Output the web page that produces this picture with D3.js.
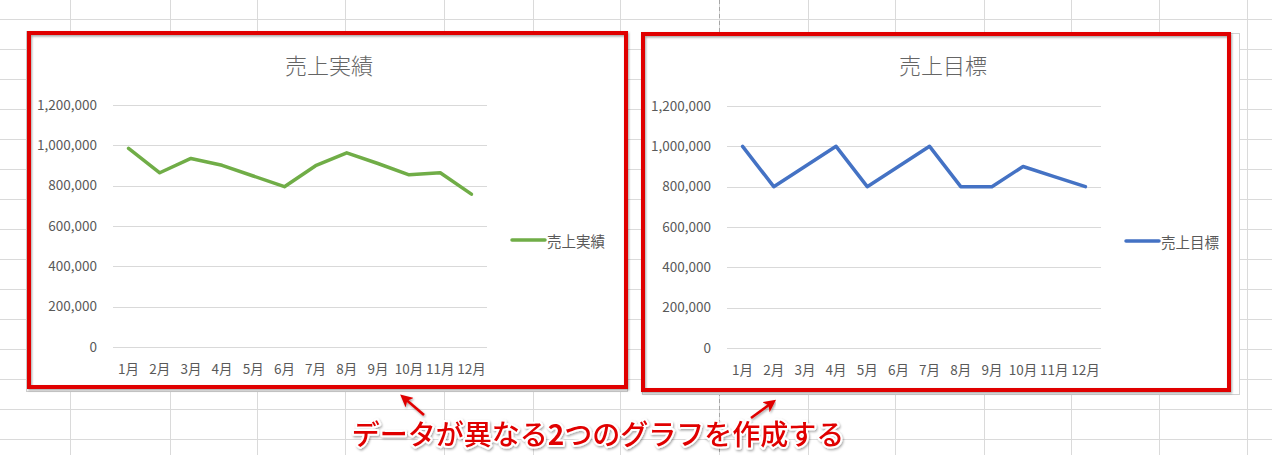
<!DOCTYPE html>
<html lang="ja">
<head>
<meta charset="utf-8">
<script src="https://cdn.jsdelivr.net/npm/d3@7"></script>
<style>
  body { margin: 0; background: #fff; }
  svg text { font-family: "Noto Sans CJK JP", "Noto Sans", sans-serif; }
</style>
</head>
<body>
<div id="chart"></div>
<script>
// Daten
const months = ["1月", "2月", "3月", "4月", "5月", "6月", "7月", "8月", "9月", "10月", "11月", "12月"];
const actualSales = [985000, 864000, 935000, 901000, 848000, 795000, 899000, 963000, 910000, 854000, 864000, 758000];
const targetSales = [1000000, 800000, 900000, 1000000, 800000, 900000, 1000000, 800000, 800000, 900000, 850000, 800000];
const yTicks = [0, 200000, 400000, 600000, 800000, 1000000, 1200000];
const titles = ["売上実績", "売上目標"];
const noteParts = ["データが異なる", "2", "つのグラフを作成する"];

// Excel-Raster im Hintergrund
const colLines = [70, 170, 257, 345, 444, 533, 620, 719, 808, 895, 984, 1071, 1159, 1247];
const rowLines = d3.range(19.5, 455, 30);

const W = 1272, H = 455;
const svg = d3.select("#chart").append("svg")
    .attr("width", W)
    .attr("height", H);

svg.append("rect").attr("width", W).attr("height", H).attr("fill", "#fff");

svg.append("g").selectAll("line.col")
    .data(colLines)
    .join("line")
    .attr("x1", d => d + 0.5).attr("x2", d => d + 0.5)
    .attr("y1", 0).attr("y2", H)
    .attr("stroke", "#dadada");

svg.append("g").selectAll("line.row")
    .data(rowLines)
    .join("line")
    .attr("x1", 0).attr("x2", W)
    .attr("y1", d => d).attr("y2", d => d)
    .attr("stroke", "#dadada");

// Seitenumbruch (gestrichelt)
svg.append("line")
    .attr("x1", 719.5).attr("x2", 719.5)
    .attr("y1", 0).attr("y2", H)
    .attr("stroke", "#a6a6a6")
    .attr("stroke-dasharray", "4,3");

const defs = svg.append("defs");
const shadow = defs.append("filter").attr("id", "shadow")
    .attr("x", "-10%").attr("y", "-30%").attr("width", "120%").attr("height", "160%");
shadow.append("feDropShadow")
    .attr("dx", 1).attr("dy", 1.5).attr("stdDeviation", 1)
    .attr("flood-color", "#000").attr("flood-opacity", 0.35);

defs.append("marker")
    .attr("id", "arrowHead")
    .attr("viewBox", "0 0 10 10")
    .attr("refX", 7).attr("refY", 5)
    .attr("markerWidth", 5).attr("markerHeight", 5)
    .attr("orient", "auto")
    .append("path")
    .attr("d", "M0,0 L10,5 L0,10 L2.5,5 Z")
    .attr("fill", "#e00000");

// Ein Diagramm zeichnen
function drawChart(box, plot, title, values, color) {
    const g = svg.append("g");

    // Diagrammfläche
    g.append("rect")
        .attr("x", box.x).attr("y", box.y)
        .attr("width", box.w).attr("height", box.h)
        .attr("fill", "#fff")
        .attr("stroke", "#d0d0d0");

    const x = d3.scaleBand().domain(months).range([plot.left, plot.right]);
    const y = d3.scaleLinear().domain([0, 1200000]).range([plot.bottom, plot.top]);

    // Gitterlinien
    g.append("g").selectAll("line")
        .data(yTicks)
        .join("line")
        .attr("x1", plot.left).attr("x2", plot.right)
        .attr("y1", d => Math.round(y(d)) + 0.5)
        .attr("y2", d => Math.round(y(d)) + 0.5)
        .attr("stroke", "#d9d9d9");

    // Y-Achse
    const yAxis = d3.axisLeft(y).tickValues(yTicks).tickSize(0).tickPadding(16)
        .tickFormat(d3.format(","));
    g.append("g")
        .attr("transform", `translate(${plot.left},0)`)
        .call(yAxis)
        .call(s => s.select(".domain").remove())
        .selectAll("text")
        .attr("fill", "#595959")
        .style("font-size", "13.5px");

    // X-Achse
    const xAxis = d3.axisBottom(x).tickSize(0).tickPadding(17);
    g.append("g")
        .attr("transform", `translate(0,${plot.bottom})`)
        .call(xAxis)
        .call(s => s.select(".domain").remove())
        .selectAll("text")
        .attr("fill", "#595959")
        .style("font-size", "13.5px");

    // Titel
    g.append("text")
        .attr("x", (box.x + box.x + box.w) / 2 + 2)
        .attr("y", 64)
        .attr("text-anchor", "middle")
        .attr("dominant-baseline", "central")
        .attr("fill", "#656565")
        .style("font-size", "22px")
        .style("font-weight", "300")
        .text(title);

    // Linie
    const line = d3.line()
        .x((d, i) => x(months[i]) + x.bandwidth() / 2)
        .y(d => y(d));
    g.append("path")
        .datum(values)
        .attr("d", line)
        .attr("fill", "none")
        .attr("stroke", color)
        .attr("stroke-width", 3.5)
        .attr("stroke-linejoin", "round")
        .attr("stroke-linecap", "round");

    // Legende
    const ly = (plot.top + plot.bottom) / 2 + 14;
    g.append("line")
        .attr("x1", plot.right + 25).attr("x2", plot.right + 58)
        .attr("y1", ly).attr("y2", ly)
        .attr("stroke", color)
        .attr("stroke-width", 3.5)
        .attr("stroke-linecap", "round");
    g.append("text")
        .attr("x", plot.right + 60)
        .attr("y", ly)
        .attr("dominant-baseline", "central")
        .attr("fill", "#595959")
        .style("font-size", "14.5px")
        .text(title);
}

drawChart({ x: 26.5, y: 31.5, w: 601, h: 360 },
    { left: 113, right: 487, top: 105, bottom: 347 },
    titles[0], actualSales, "#70ad47");
drawChart({ x: 642.5, y: 33.5, w: 597, h: 361 },
    { left: 727, right: 1101, top: 106, bottom: 348 },
    titles[1], targetSales, "#4472c4");

// Rote Markierungsrahmen
const frames = [
    { x: 29, y: 33, w: 597, h: 354 },
    { x: 643, y: 34, w: 586, h: 356 }
];
svg.append("g").selectAll("rect")
    .data(frames)
    .join("rect")
    .attr("x", d => d.x).attr("y", d => d.y)
    .attr("width", d => d.w).attr("height", d => d.h)
    .attr("fill", "none")
    .attr("stroke", "#e00000")
    .attr("stroke-width", 4)
    .attr("filter", "url(#shadow)");

// Pfeile
const arrows = [
    { x1: 424, y1: 415, x2: 403, y2: 397 },
    { x1: 751, y1: 418, x2: 773, y2: 402 }
];
svg.append("g").selectAll("line")
    .data(arrows)
    .join("line")
    .attr("x1", d => d.x1).attr("y1", d => d.y1)
    .attr("x2", d => d.x2).attr("y2", d => d.y2)
    .attr("stroke", "#e00000")
    .attr("stroke-width", 2.5)
    .attr("marker-end", "url(#arrowHead)")
    .attr("filter", "url(#shadow)");

// Anmerkung
svg.append("text")
    .attr("x", 598)
    .attr("y", 433)
    .attr("text-anchor", "middle")
    .attr("dominant-baseline", "central")
    .attr("fill", "#e00000")
    .attr("stroke", "#fff")
    .attr("stroke-width", 4)
    .attr("stroke-linejoin", "round")
    .attr("paint-order", "stroke")
    .attr("filter", "url(#shadow)")
    .style("font-size", "28px")
    .style("font-weight", "500")
    .selectAll("tspan")
    .data(noteParts)
    .join("tspan")
    .style("font-weight", (d, i) => i === 1 ? "bold" : null)
    .text(d => d);
</script>
</body>
</html>
